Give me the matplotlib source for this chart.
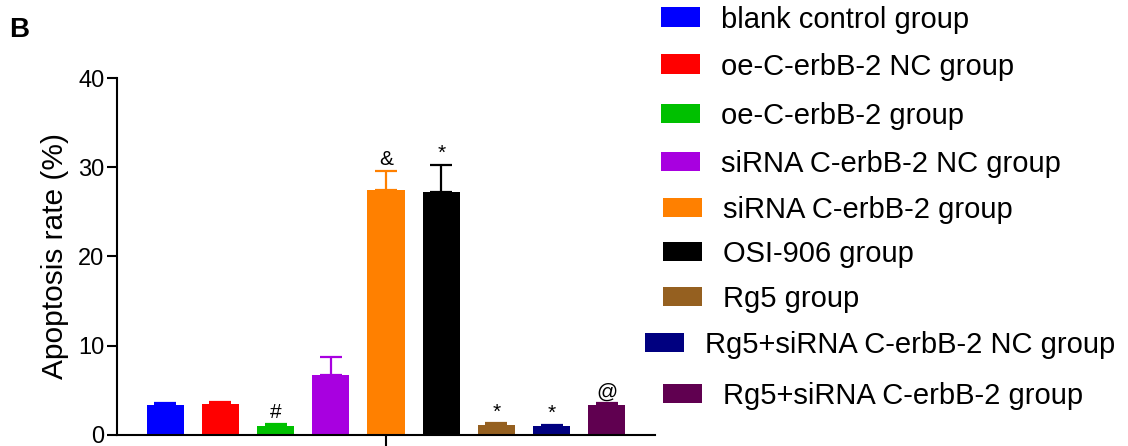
import numpy as np
import matplotlib.pyplot as plt
from matplotlib.patches import Rectangle

plt.rcParams['font.family'] = ['Liberation Sans', 'DejaVu Sans']

groups = ['blank control group', 'oe-C-erbB-2 NC group', 'oe-C-erbB-2 group',
          'siRNA C-erbB-2 NC group', 'siRNA C-erbB-2 group', 'OSI-906 group',
          'Rg5 group', 'Rg5+siRNA C-erbB-2 NC group', 'Rg5+siRNA C-erbB-2 group']
means = [3.33, 3.47, 1.04, 6.68, 27.5, 27.2, 1.15, 1.04, 3.33]
errors = [0.22, 0.26, 0.19, 2.05, 2.1, 3.1, 0.16, 0.11, 0.22]
marks = ['', '', '#', '', '&', '*', '*', '*', '@']
colors = ['#0000FF', '#FF0000', '#00C000', '#A800E0', '#FF8000', '#000000',
          '#956020', '#000080', '#600050']

W, H = 1128, 446
fig = plt.figure(figsize=(W / 100, H / 100), dpi=100)
ax = fig.add_axes([0.1037, 0.0247, 0.477, 0.8004])

x = np.arange(len(means))
bars = ax.bar(x, means, 0.67, color=colors, zorder=2)
for xi, m, e, c in zip(x, means, errors, colors):
    ax.errorbar(xi, m, yerr=[[0], [e]], fmt='none', ecolor=c,
                elinewidth=1.6, capsize=8, capthick=1.6, zorder=1)

# significance marks above the error bars
for xi, m, e, s in zip(x, means, errors, marks):
    if s:
        ax.text(xi, m + e + 0.2, s, ha='center', va='bottom', fontsize=15)

ax.set_xlim(-0.87, 8.87)
ax.set_ylim(0, 40)
ax.set_yticks([0, 10, 20, 30, 40])
ax.tick_params(axis='y', labelsize=17, width=1.5, length=7, pad=2)
ax.set_xticks([4])
ax.set_xticklabels([''])
ax.tick_params(axis='x', width=1.5, length=8)
ax.set_ylabel('Apoptosis rate (%)', fontsize=21.5, labelpad=7)
for side in ['top', 'right']:
    ax.spines[side].set_visible(False)
for side in ['left', 'bottom']:
    ax.spines[side].set_linewidth(1.5)

# legend drawn by hand: GraphPad-style rows are not perfectly aligned
row_y = [17, 64, 113, 161, 207, 251, 296, 342, 393]
row_x = [661, 661, 661, 661, 663, 663, 663, 645, 663]
for bar, label, py, px in zip(bars, groups, row_y, row_x):
    fig.add_artist(Rectangle((px / W, 1 - (py + 9.5) / H), 39 / W, 19 / H,
                             facecolor=bar.get_facecolor(), edgecolor='none',
                             transform=fig.transFigure))
    fig.text((px + 60) / W, 1 - py / H, label, fontsize=21,
             ha='left', va='center_baseline')

fig.text(0.008, 0.918, 'B', fontsize=20, fontweight='bold')

plt.savefig('out.png', dpi=100)
